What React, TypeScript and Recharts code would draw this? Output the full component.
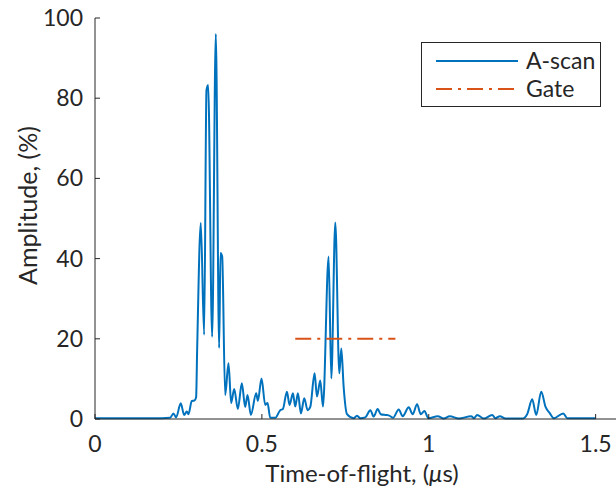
import { LineChart, Line, XAxis, YAxis, Legend, Label } from "recharts";

// A-scan samples (time in µs, amplitude in %)
const tof = [
  0, 0.1, 0.2, 0.225, 0.235, 0.243, 0.257, 0.267, 0.275, 0.28, 0.29, 0.298,
  0.303, 0.306, 0.317, 0.327, 0.334, 0.339, 0.351, 0.362, 0.372, 0.376, 0.381,
  0.39, 0.4, 0.408, 0.417, 0.428, 0.44, 0.45, 0.457, 0.467, 0.483, 0.488, 0.499,
  0.51, 0.517, 0.525, 0.54, 0.555, 0.563, 0.575, 0.583, 0.593, 0.6, 0.608,
  0.617, 0.627, 0.637, 0.645, 0.658, 0.665, 0.675, 0.683, 0.7, 0.708, 0.72,
  0.732, 0.738, 0.745, 0.755, 0.775, 0.785, 0.795, 0.81, 0.825, 0.835, 0.847,
  0.856, 0.87, 0.88, 0.893, 0.91, 0.922, 0.94, 0.952, 0.965, 0.976, 0.987,
  0.999, 1.027, 1.045, 1.063, 1.09, 1.127, 1.136, 1.145, 1.165, 1.19, 1.2,
  1.213, 1.23, 1.28, 1.295, 1.31, 1.322, 1.337, 1.35, 1.363, 1.375, 1.403,
  1.415, 1.5,
];
const amplitude = [
  0.2, 0.2, 0.2, 0.3, 1.4, 0.4, 3.9, 1.0, 1.9, 1.2, 4.5, 4.6,
  5.5, 17, 48.9, 21, 82, 83.3, 20.5, 96, 17.7, 41.4, 40.5,
  6, 13.9, 4, 7.5, 2.5, 8.9, 3, 6, 1, 6.4, 4.5, 10.1,
  3.5, 4, 0.3, 0.3, 2.2, 2.5, 6.8, 3.5, 6.4, 3.1, 6.4,
  1.4, 5.2, 2.2, 3, 11.4, 5.6, 9.6, 3.1, 40.5, 10.1, 49,
  11.4, 17.6, 8, 1.2, 0.2, 0.8, 0.2, 0.4, 2.2, 0.6, 2.5,
  1.2, 1, 0.9, 0.3, 2.4, 0.7, 2.9, 1.2, 3.7, 1.2, 2,
  0.2, 0.7, 0.1, 0.7, 0.1, 0.7, 0.2, 1, 0.1, 1, 0.2,
  0.7, 0.1, 0.1, 1.2, 4.9, 1, 6.8, 3, 1.4, 0.2, 1.4,
  0.2, 0.2,
];
const gateTof = [0.6, 0.9];
const gateLevel = [20, 20];
const xTicks = [0, 0.5, 1, 1.5];
const yTicks = [0, 20, 40, 60, 80, 100];

const scanData = tof.map((t, i) => ({ t, a: amplitude[i] }));
const gateData = gateTof.map((t, i) => ({ t, a: gateLevel[i] }));

const FONT = "Lato, 'Open Sans', sans-serif";
const INK = "#262626";
const BLUE = "#0072BD";
const ORANGE = "#D95319";
const GATE_DASH = "16 6 3 6";

const BottomTick = (props: any) => {
  const { x, y, payload } = props;
  return (
    <g>
      <line x1={x} x2={x} y1={y} y2={y - 5} stroke={INK} strokeWidth={1} />
      <text x={x} y={y + 33} textAnchor="middle" fill={INK} fontFamily={FONT} fontSize={23}>
        {payload.value}
      </text>
    </g>
  );
};

const TopTick = (props: any) => {
  const { x, y } = props;
  return <line x1={x} x2={x} y1={y} y2={y + 5} stroke={INK} strokeWidth={1} />;
};

const LeftTick = (props: any) => {
  const { x, y, payload } = props;
  return (
    <g>
      <line x1={x} x2={x + 5} y1={y} y2={y} stroke={INK} strokeWidth={1} />
      <text x={x - 12} y={y + 8} textAnchor="end" fill={INK} fontFamily={FONT} fontSize={23}>
        {payload.value}
      </text>
    </g>
  );
};

const LegendBox = () => (
  <div
    style={{
      position: "relative",
      width: 180,
      height: 65,
      boxSizing: "border-box",
      border: `1px solid ${INK}`,
      background: "#fff",
    }}
  >
    <svg width={180} height={65} style={{ position: "absolute", left: -1, top: -1 }}>
      <line x1={15} x2={97} y1={19} y2={19} stroke={BLUE} strokeWidth={2} />
      <line x1={15} x2={97} y1={47} y2={47} stroke={ORANGE} strokeWidth={2} strokeDasharray={GATE_DASH} />
      <text x={105} y={27} fill={INK} fontFamily={FONT} fontSize={23}>A-scan</text>
      <text x={105} y={55} fill={INK} fontFamily={FONT} fontSize={23}>Gate</text>
    </svg>
  </div>
);

export default function App() {
  return (
    <div
      style={{
        position: "absolute",
        left: 0,
        top: 0,
        width: 616,
        height: 495,
        overflow: "hidden",
        background: "#fff",
      }}
    >
      <LineChart width={629} height={495} margin={{ top: 18, right: 0, bottom: 31, left: 0 }}>
        <XAxis
          xAxisId="bottom"
          dataKey="t"
          type="number"
          domain={[0, 1.6]}
          ticks={xTicks}
          allowDataOverflow
          height={45}
          tickSize={0}
          tickMargin={0}
          tickLine={false}
          axisLine={{ stroke: INK, strokeWidth: 1 }}
          tick={<BottomTick />}
        >
          <Label
            content={(p: any) => {
              const vb = p.viewBox;
              return (
                <text
                  x={vb.x + vb.width / 2}
                  y={vb.y + 63}
                  textAnchor="middle"
                  fill={INK}
                  fontFamily={FONT}
                  fontSize={24}
                >
                  Time-of-flight, (<tspan fontStyle="italic">μ</tspan>s)
                </text>
              );
            }}
          />
        </XAxis>
        <XAxis
          xAxisId="top"
          orientation="top"
          dataKey="t"
          type="number"
          domain={[0, 1.6]}
          ticks={xTicks}
          allowDataOverflow
          height={0}
          tickSize={0}
          tickMargin={0}
          tickLine={false}
          axisLine={{ stroke: INK, strokeWidth: 1 }}
          tick={<TopTick />}
        />
        <YAxis
          type="number"
          domain={[0, 100]}
          ticks={yTicks}
          width={95}
          tickSize={0}
          tickMargin={0}
          tickLine={false}
          axisLine={{ stroke: INK, strokeWidth: 1 }}
          tick={<LeftTick />}
        >
          <Label
            content={(p: any) => {
              const vb = p.viewBox;
              const cx = vb.x + 27;
              const cy = vb.y + vb.height / 2 - 13;
              return (
                <text
                  x={cx}
                  y={cy}
                  transform={`rotate(-90 ${cx} ${cy})`}
                  textAnchor="middle"
                  dominantBaseline="central"
                  fill={INK}
                  fontFamily={FONT}
                  fontSize={25}
                >
                  Amplitude, (%)
                </text>
              );
            }}
          />
        </YAxis>
        <Line
          xAxisId="bottom"
          data={scanData}
          dataKey="a"
          type="monotone"
          stroke={BLUE}
          strokeWidth={2}
          dot={false}
          isAnimationActive={false}
        />
        <Line
          xAxisId="bottom"
          data={gateData}
          dataKey="a"
          type="linear"
          stroke={ORANGE}
          strokeWidth={2}
          strokeDasharray={GATE_DASH}
          dot={false}
          isAnimationActive={false}
        />
        <Legend
          layout="vertical"
          align="center"
          verticalAlign="middle"
          wrapperStyle={{ left: 421, top: 42, width: 180, height: 65 }}
          content={() => <LegendBox />}
        />
      </LineChart>
    </div>
  );
}
